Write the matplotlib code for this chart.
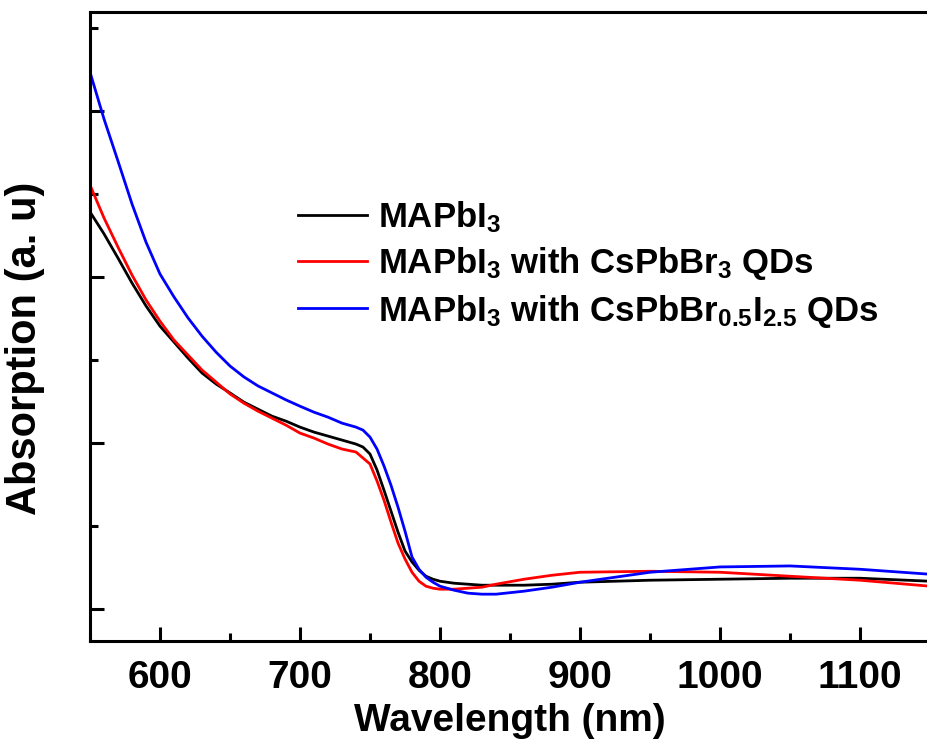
import matplotlib
matplotlib.use('Agg')
import matplotlib.pyplot as plt
from matplotlib.ticker import MultipleLocator, NullFormatter

# Data: UV-vis absorption spectra (arbitrary units)
wavelength = [550, 560, 570, 580, 590, 600, 610, 620, 630, 640, 650, 660,
              670, 680, 690, 700, 710, 720, 730, 740, 745, 750, 755, 760,
              765, 770, 775, 780, 785, 790, 795, 800, 810, 820, 830, 840,
              860, 880, 900, 950, 1000, 1050, 1100, 1150]

abs_mapbi3 = [1.696, 1.630, 1.557, 1.482, 1.413, 1.352, 1.304, 1.256, 1.211,
              1.178, 1.151, 1.123, 1.102, 1.081, 1.066, 1.048, 1.033, 1.021,
              1.009, 0.997, 0.988, 0.967, 0.919, 0.858, 0.795, 0.732, 0.675,
              0.642, 0.617, 0.599, 0.590, 0.584, 0.578, 0.575, 0.572, 0.572,
              0.572, 0.575, 0.581, 0.587, 0.590, 0.593, 0.593, 0.584]

abs_cspbbr3 = [1.777, 1.678, 1.590, 1.506, 1.431, 1.367, 1.310, 1.265, 1.220,
               1.184, 1.148, 1.120, 1.096, 1.075, 1.054, 1.030, 1.015, 0.997,
               0.982, 0.973, 0.955, 0.937, 0.886, 0.828, 0.762, 0.699, 0.651,
               0.611, 0.584, 0.569, 0.563, 0.560, 0.560, 0.563, 0.566, 0.575,
               0.590, 0.602, 0.611, 0.614, 0.611, 0.599, 0.587, 0.569]

abs_cspbbri = [2.117, 1.976, 1.849, 1.720, 1.605, 1.509, 1.440, 1.377, 1.322,
               1.274, 1.232, 1.199, 1.172, 1.151, 1.130, 1.111, 1.093, 1.078,
               1.060, 1.048, 1.039, 1.018, 0.982, 0.931, 0.873, 0.807, 0.735,
               0.657, 0.620, 0.596, 0.581, 0.569, 0.557, 0.548, 0.545, 0.545,
               0.554, 0.566, 0.581, 0.611, 0.627, 0.630, 0.620, 0.605]

labels = [r'MAPbI$_{3}$',
          r'MAPbI$_{3}$ with CsPbBr$_{3}$ QDs',
          r'MAPbI$_{3}$ with CsPbBr$_{0.5}$I$_{2.5}$ QDs']

plt.rcParams['font.family'] = 'Liberation Sans'
plt.rcParams['font.weight'] = 'bold'
plt.rcParams['mathtext.fontset'] = 'custom'
plt.rcParams['mathtext.rm'] = 'Liberation Sans:bold'
plt.rcParams['mathtext.bf'] = 'Liberation Sans:bold'
plt.rcParams['mathtext.it'] = 'Liberation Sans:bold'

fig = plt.figure(figsize=(9.28, 7.5), dpi=100, facecolor='white')
ax = fig.add_axes([90 / 928, 1 - 641 / 750, 840 / 928, 629 / 750])

ax.plot(wavelength, abs_mapbi3, color='black', lw=2, label=labels[0])
ax.plot(wavelength, abs_cspbbr3, color='#ff0000', lw=2, label=labels[1])
ax.plot(wavelength, abs_cspbbri, color='#0000ff', lw=2, label=labels[2])

ax.set_xlim(550, 1150)
ax.set_ylim(0.404, 2.298)

ax.xaxis.set_major_locator(MultipleLocator(100))
ax.xaxis.set_minor_locator(MultipleLocator(50))
ax.yaxis.set_major_locator(MultipleLocator(0.5))
ax.yaxis.set_minor_locator(MultipleLocator(0.25))
ax.yaxis.set_major_formatter(NullFormatter())

ax.tick_params(which='major', direction='in', length=10, width=2.2,
               labelsize=28, pad=14)
ax.tick_params(which='minor', direction='in', length=5.5, width=2.2)
for lbl in ax.get_xticklabels():
    lbl.set_fontweight('bold')

for side in ['left', 'bottom', 'top', 'right']:
    ax.spines[side].set_linewidth(2.2)

ax.set_xlabel('Wavelength (nm)', fontsize=28, fontweight='bold')
ax.set_ylabel('Absorption (a. u)', fontsize=30, fontweight='bold')
ax.xaxis.set_label_coords(0.5, -0.098)
ax.yaxis.set_label_coords(-0.054, 0.466)

ax.legend(loc='upper left', bbox_to_anchor=(298 / 928, 1 - 199 / 750),
          bbox_transform=fig.transFigure, frameon=False, fontsize=25,
          handlelength=2.0, handletextpad=0.3, labelspacing=0.3,
          borderpad=0, borderaxespad=0)

fig.savefig('out.png', dpi=100, facecolor='white')
